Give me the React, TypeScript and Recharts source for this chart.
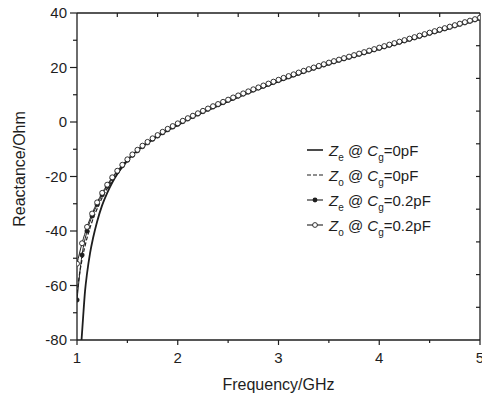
import React from 'react';
import { LineChart, Line, XAxis, YAxis, Legend } from 'recharts';

// frequency grid of the marker series (GHz)
const freq = [
  1.0, 1.05, 1.1, 1.15, 1.2, 1.25, 1.3, 1.35, 1.4, 1.45,
  1.5, 1.55, 1.6, 1.65, 1.7, 1.75, 1.8, 1.85, 1.9, 1.95,
  2.0, 2.05, 2.1, 2.15, 2.2, 2.25, 2.3, 2.35, 2.4, 2.45,
  2.5, 2.55, 2.6, 2.65, 2.7, 2.75, 2.8, 2.85, 2.9, 2.95,
  3.0, 3.05, 3.1, 3.15, 3.2, 3.25, 3.3, 3.35, 3.4, 3.45,
  3.5, 3.55, 3.6, 3.65, 3.7, 3.75, 3.8, 3.85, 3.9, 3.95,
  4.0, 4.05, 4.1, 4.15, 4.2, 4.25, 4.3, 4.35, 4.4, 4.45,
  4.5, 4.55, 4.6, 4.65, 4.7, 4.75, 4.8, 4.85, 4.9, 4.95,
  5.0,
];

// Zo @ Cg=0.2pF (open circles)
const zoCg02 = [
  -52.0, -44.5, -38.5, -33.6, -29.5, -26.0, -23.0, -20.3, -17.9, -15.7,
  -13.7, -11.9, -10.2, -8.7, -7.3, -6.0, -4.8, -3.6, -2.5, -1.5,
  -0.5, 0.45, 1.4, 2.3, 3.2, 4.1, 4.95, 5.8, 6.6, 7.4,
  8.2, 9.0, 9.75, 10.5, 11.25, 12.0, 12.7, 13.4, 14.1, 14.8,
  15.5, 16.2, 16.85, 17.5, 18.15, 18.8, 19.4, 20.0, 20.6, 21.2,
  21.8, 22.35, 22.9, 23.45, 24.0, 24.55, 25.1, 25.65, 26.2, 26.75,
  27.3, 27.85, 28.4, 28.95, 29.5, 30.05, 30.6, 31.15, 31.7, 32.25,
  32.8, 33.35, 33.9, 34.45, 35.0, 35.55, 36.1, 36.65, 37.2, 37.75,
  38.3,
];

// Ze @ Cg=0.2pF (filled dots)
const zeCg02 = [
  -65.3, -48.8, -40.0, -34.5, -30.3, -26.7, -23.5, -20.7, -18.2, -16.0,
  -14.0, -12.2, -10.5, -9.0, -7.6, -6.3, -5.1, -3.9, -2.8, -1.8,
  -0.8, 0.2, 1.15, 2.05, 2.95, 3.85, 4.7, 5.55, 6.35, 7.15,
  7.95, 8.75, 9.5, 10.25, 11.0, 11.75, 12.45, 13.15, 13.85, 14.55,
  15.25, 15.95, 16.6, 17.25, 17.9, 18.55, 19.15, 19.75, 20.35, 20.95,
  21.55, 22.1, 22.65, 23.2, 23.75, 24.3, 24.85, 25.4, 25.95, 26.5,
  27.05, 27.6, 28.15, 28.7, 29.25, 29.8, 30.35, 30.9, 31.45, 32.0,
  32.55, 33.1, 33.65, 34.2, 34.75, 35.3, 35.85, 36.4, 36.95, 37.5,
  38.05,
];

// Ze @ Cg=0pF (solid line)
const ze0Freq = [
  1.045, 1.06, 1.08, 1.1, 1.13, 1.16, 1.2, 1.25, 1.3, 1.35, 1.4, 1.45,
  1.5, 1.55, 1.6, 1.65, 1.7, 1.75, 1.8, 1.85, 1.9, 1.95, 2.0,
  2.1, 2.2, 2.3, 2.4, 2.5, 2.6, 2.7, 2.8, 2.9, 3.0,
  3.2, 3.4, 3.6, 3.8, 4.0, 4.2, 4.4, 4.6, 4.8, 5.0,
];
const ze0 = [
  -80, -72, -62, -55.5, -48, -42.5, -36.5, -30.5, -26, -22.2, -19.1, -16.4,
  -14.1, -12.1, -10.4, -8.9, -7.5, -6.2, -5.1, -4.0, -3.0, -2.0, -1.1,
  0.9, 2.7, 4.4, 6.0, 7.6, 9.2, 10.7, 12.1, 13.5, 14.9,
  17.6, 20.1, 22.4, 24.6, 26.8, 29.0, 31.2, 33.4, 35.6, 37.8,
];

// Zo @ Cg=0pF (dashed line)
const zo0Freq = [
  1.0, 1.025, 1.05, 1.075, 1.1, 1.15, 1.2, 1.25, 1.3, 1.35, 1.4, 1.45,
  1.5, 1.55, 1.6, 1.65, 1.7, 1.75, 1.8, 1.85, 1.9, 1.95, 2.0,
  2.1, 2.2, 2.3, 2.4, 2.5, 2.6, 2.7, 2.8, 2.9, 3.0,
  3.2, 3.4, 3.6, 3.8, 4.0, 4.2, 4.4, 4.6, 4.8, 5.0,
];
const zo0 = [
  -63, -55.8, -50.5, -46.2, -42.5, -36.5, -31.8, -27.8, -24.4, -21.5, -18.9, -16.6,
  -14.5, -12.6, -10.9, -9.3, -7.9, -6.6, -5.4, -4.3, -3.2, -2.2, -1.2,
  0.8, 2.6, 4.3, 5.9, 7.5, 9.1, 10.6, 12.0, 13.4, 14.8,
  17.5, 20.0, 22.3, 24.5, 26.7, 28.9, 31.1, 33.3, 35.5, 37.7,
];

const xTicks = [1, 1.5, 2, 2.5, 3, 3.5, 4, 4.5, 5];
const yTicks = [-80, -70, -60, -50, -40, -30, -20, -10, 0, 10, 20, 30, 40];
const topTicks = [1.4, 1.8, 2.2, 2.6, 3.0, 3.4, 3.8, 4.2, 4.6];
const rightTicks = [-68, -56, -44, -32, -20, -8, 4, 16, 28];

const legendRows = [
  { kind: 'solid', sub: 'e', cg: '0pF' },
  { kind: 'dash', sub: 'o', cg: '0pF' },
  { kind: 'dot', sub: 'e', cg: '0.2pF' },
  { kind: 'circle', sub: 'o', cg: '0.2pF' },
];

const INK = '#1e1e1e';
const FONT = '"Liberation Sans", Arial, Helvetica, sans-serif';

const rows = (xs: number[], ys: number[]) => xs.map((f, i) => ({ f, v: ys[i] }));

const LeftTick = (props: any) => {
  const { x, y, payload } = props;
  const major = payload.value % 20 === 0;
  const edge = x + 3 + 7;
  return (
    <g>
      <line x1={edge - (major ? 7 : 4)} x2={edge} y1={y} y2={y} stroke={INK} strokeWidth={1.2} />
      {major && (
        <text x={x} y={y} dy="0.36em" textAnchor="end" fontSize={15} fontFamily={FONT} fill={INK}>
          {payload.value}
        </text>
      )}
    </g>
  );
};

const BottomTick = (props: any) => {
  const { x, y, payload } = props;
  const major = Number.isInteger(payload.value);
  const edge = y - 7.5 - 5;
  return (
    <g>
      <line x1={x} x2={x} y1={edge} y2={edge + (major ? 5 : 3)} stroke={INK} strokeWidth={1.2} />
      {major && (
        <text x={x} y={y} dy="0.71em" textAnchor="middle" fontSize={15} fontFamily={FONT} fill={INK}>
          {payload.value}
        </text>
      )}
    </g>
  );
};

const NoTick = () => <g />;

const Symbol = ({ kind }: { kind: string }) => (
  <svg width={20} height={12} style={{ display: 'block' }}>
    <line x1={2} x2={18} y1={6} y2={6} stroke={INK} strokeWidth={kind === 'solid' ? 1.6 : 1.1}
      strokeDasharray={kind === 'dash' ? '4 2' : undefined} />
    {kind === 'dot' && <circle cx={10} cy={6} r={2.4} fill={INK} />}
    {kind === 'circle' && <circle cx={10} cy={6} r={2.4} fill="#fff" stroke={INK} strokeWidth={0.9} />}
  </svg>
);

const LegendBox = () => (
  <div style={{ fontFamily: FONT, fontSize: 15, color: INK }}>
    {legendRows.map((r) => (
      <div key={r.kind} style={{ display: 'flex', alignItems: 'center', height: 25 }}>
        <Symbol kind={r.kind} />
        <span style={{ marginLeft: 4, whiteSpace: 'nowrap' }}>
          <i>Z</i>
          <span style={{ fontSize: 10, position: 'relative', top: 5 }}>{r.sub}</span>
          {' @ '}
          <i>C</i>
          <span style={{ fontSize: 10, position: 'relative', top: 5 }}>g</span>
          {'=' + r.cg}
        </span>
      </div>
    ))}
  </div>
);

const XTitle = () => (
  <text x={278.5} y={390} textAnchor="middle" fontSize={16} fontFamily={FONT} fill={INK}>
    Frequency/GHz
  </text>
);

const YTitle = () => (
  <text x={25} y={169} transform="rotate(-90, 25, 169)" textAnchor="middle" fontSize={16} fontFamily={FONT} fill={INK}>
    Reactance/Ohm
  </text>
);

export default function App() {
  const axisLine = { stroke: INK, strokeWidth: 1.3 };
  return (
    <div style={{ position: 'absolute', left: 0, top: 0, width: 482, height: 396, background: '#fff' }}>
      <LineChart width={482} height={396} margin={{ top: 0, right: 0, bottom: 0, left: 0 }} style={{ fontFamily: FONT }}>
        <XAxis xAxisId="b" type="number" dataKey="f" domain={[1, 5]} ticks={xTicks} interval={0}
          height={56} tickSize={5} tickMargin={7.5} tickLine={false} axisLine={axisLine}
          tick={BottomTick} label={XTitle} allowDataOverflow />
        <XAxis xAxisId="t" orientation="top" type="number" dataKey="f" domain={[1, 5]} ticks={topTicks}
          interval={0} height={13} tickSize={-4} tick={NoTick} tickLine={{ stroke: INK, strokeWidth: 1.2 }}
          axisLine={axisLine} allowDataOverflow />
        <YAxis yAxisId="l" type="number" domain={[-80, 40]} ticks={yTicks} interval={0} width={77}
          tickSize={7} tickMargin={3} tickLine={false} axisLine={axisLine} tick={LeftTick}
          label={YTitle} allowDataOverflow />
        <YAxis yAxisId="r" orientation="right" type="number" domain={[-80, 40]} ticks={rightTicks}
          interval={0} width={2} tickSize={-4} tick={NoTick} tickLine={{ stroke: INK, strokeWidth: 1.2 }}
          axisLine={axisLine} allowDataOverflow />
        <Legend layout="vertical" align="center" verticalAlign="middle" content={LegendBox}
          wrapperStyle={{ left: 305, top: 137.5, width: 175 }} />
        <Line data={rows(ze0Freq, ze0)} dataKey="v" xAxisId="b" yAxisId="l" type="monotone"
          stroke={INK} strokeWidth={1.8} dot={false} isAnimationActive={false} />
        <Line data={rows(zo0Freq, zo0)} dataKey="v" xAxisId="b" yAxisId="l" type="monotone"
          stroke={INK} strokeWidth={1.2} strokeDasharray="4 2" dot={false} isAnimationActive={false} />
        <Line data={rows(freq, zeCg02)} dataKey="v" xAxisId="b" yAxisId="l" type="monotone"
          stroke={INK} strokeWidth={1} dot={{ r: 2.3, fill: INK, stroke: INK, strokeWidth: 0.5 }}
          isAnimationActive={false} />
        <Line data={rows(freq, zoCg02)} dataKey="v" xAxisId="b" yAxisId="l" type="monotone"
          stroke={INK} strokeWidth={1} dot={{ r: 2.5, fill: '#fff', stroke: INK, strokeWidth: 0.9 }}
          isAnimationActive={false} />
      </LineChart>
    </div>
  );
}
